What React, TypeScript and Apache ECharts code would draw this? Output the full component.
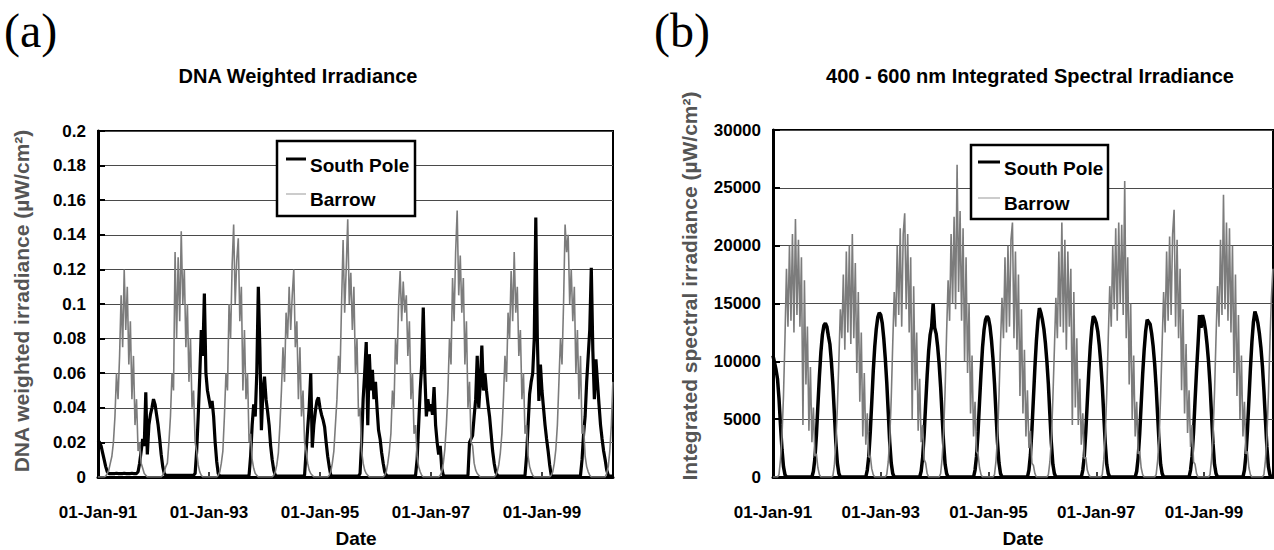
import React, { useEffect, useRef } from 'react';
import * as echarts from 'echarts';

// Samples are spaced 1/36 year (~10 days) apart, starting 01-Jan-1991.
const SAMPLES_PER_YEAR = 36;
const X_MAX_YEARS = 9.28;
const dateTickLabels = ['01-Jan-91', '01-Jan-93', '01-Jan-95', '01-Jan-97', '01-Jan-99'];

// Panel (a): DNA weighted irradiance (uW/cm2)
const southPoleDna = [
  // 1991
  .021, .020, .018, .014, .010, .006, .003, .002, .002, .002, .002, .002, .0022, .002, .002, .002, .002, .0022,
  .002, .002, .002, .002, .0022, .002, .002, .002, .003, .008, .015, .022, .018, .049, .013, .030, .036, .040,
  // 1992
  .045, .042, .036, .030, .022, .013, .006, .002, .001, .001, .001, .001, .001, .001, .001, .001, .001, .001,
  .001, .001, .001, .001, .001, .001, .001, .001, .001, .002, .015, .035, .058, .085, .070, .106, .060, .050,
  // 1993
  .045, .040, .044, .035, .020, .009, .002, .0005, .0005, .0005, .0005, .0005, .0005, .0005, .0005, .0005, .0005, .0005,
  .0005, .0005, .0005, .0005, .0005, .0005, .0005, .0005, .001, .012, .030, .042, .035, .060, .110, .075, .027, .050,
  // 1994
  .058, .045, .038, .030, .018, .010, .004, .001, .0005, .0005, .0005, .0005, .0005, .0005, .0005, .0005, .0005, .0005,
  .0005, .0005, .0005, .0005, .0005, .0005, .0005, .0005, .001, .015, .028, .040, .060, .017, .030, .038, .044, .046,
  // 1995
  .040, .036, .033, .029, .020, .012, .006, .001, .0005, .0005, .0005, .0005, .0005, .0005, .0005, .0005, .0005, .0005,
  .0005, .0005, .0005, .0005, .0005, .0005, .0005, .0005, .002, .020, .045, .060, .078, .030, .071, .050, .062, .045,
  // 1996
  .055, .040, .027, .022, .014, .008, .003, .001, .0005, .0005, .0005, .0005, .0005, .0005, .0005, .0005, .0005, .0005,
  .0005, .0005, .0005, .0005, .0005, .0005, .0005, .0005, .001, .010, .030, .050, .065, .098, .060, .035, .045, .038,
  // 1997
  .042, .036, .052, .030, .020, .013, .018, .005, .001, .0005, .0005, .0005, .0005, .0005, .0005, .0005, .0005, .0005,
  .0005, .0005, .0005, .0005, .0005, .0005, .001, .020, .022, .024, .035, .045, .070, .040, .055, .076, .050, .060,
  // 1998
  .050, .042, .035, .025, .015, .008, .003, .001, .0005, .0005, .0005, .0005, .0005, .0005, .0005, .0005, .0005, .0005,
  .0005, .0005, .0005, .0005, .0005, .0005, .0005, .001, .012, .030, .048, .055, .060, .080, .150, .080, .044, .065,
  // 1999
  .050, .040, .030, .022, .015, .007, .001, .0005, .0005, .0005, .0005, .0005, .0005, .0005, .0005, .0005, .0005, .0005,
  .0005, .0005, .0005, .0005, .0005, .0005, .0005, .001, .010, .025, .035, .055, .070, .085, .121, .073, .045, .068,
  // 2000
  .055, .042, .030, .022, .015, .010, .004, .001, .0005, .0005, .0005,
];

const barrowDna = [
  // 1991
  0, 0, 0, 0, 0, .0005, .002, .004, .008, .012, .020, .035, .060, .045, .070, .105, .075, .120,
  .085, .110, .065, .090, .045, .070, .030, .045, .015, .020, .008, .005, .002, .001, 0, 0, 0, 0,
  // 1992
  0, 0, 0, 0, 0, 0, .001, .003, .006, .008, .020, .035, .060, .050, .130, .080, .127, .090,
  .142, .100, .120, .075, .100, .055, .080, .040, .050, .020, .015, .007, .003, .001, 0, 0, 0, 0,
  // 1993
  0, 0, 0, 0, 0, 0, .001, .003, .008, .015, .035, .060, .050, .100, .080, .122, .146, .100,
  .125, .138, .090, .110, .050, .085, .045, .060, .020, .025, .010, .005, .002, .001, 0, 0, 0, 0,
  // 1994
  0, 0, 0, 0, 0, 0, .001, .003, .007, .014, .030, .050, .075, .055, .095, .080, .110, .085,
  .105, .120, .075, .090, .045, .075, .035, .050, .020, .015, .008, .004, .002, .001, 0, 0, 0, 0,
  // 1995
  0, 0, 0, 0, 0, 0, .001, .003, .008, .015, .030, .045, .070, .060, .100, .137, .095, .120,
  .149, .100, .118, .085, .110, .060, .080, .035, .040, .015, .008, .004, .002, .001, 0, 0, 0, 0,
  // 1996
  0, 0, 0, 0, 0, 0, .001, .003, .008, .015, .025, .050, .040, .080, .065, .100, .119, .090,
  .113, .095, .105, .070, .090, .045, .060, .025, .030, .012, .006, .003, .001, 0, 0, 0, 0, 0,
  // 1997
  0, 0, 0, 0, 0, 0, .001, .003, .008, .016, .030, .050, .080, .065, .115, .090, .130, .154,
  .105, .128, .095, .115, .065, .090, .040, .055, .020, .018, .008, .004, .002, .001, 0, 0, 0, 0,
  // 1998
  0, 0, 0, 0, 0, 0, .001, .003, .007, .014, .025, .045, .070, .055, .095, .080, .119, .090,
  .130, .095, .110, .070, .085, .045, .060, .025, .030, .012, .006, .003, .001, 0, 0, 0, 0, 0,
  // 1999
  0, 0, 0, 0, 0, 0, .001, .003, .008, .016, .030, .055, .080, .065, .100, .146, .130, .140,
  .100, .120, .090, .110, .060, .085, .045, .070, .025, .030, .012, .006, .003, .001, 0, 0, 0, 0,
  // 2000
  0, 0, 0, 0, 0, 0, .002, .006, .015, .030, .055,
];

// Panel (b): 400-600 nm integrated spectral irradiance (uW/cm2)
const southPoleVis = [
  // 1991
  10500, 9900, 9300, 8500, 6800, 4500, 2400, 900, 200, 0, 0, 0, 0, 0, 0, 0, 0, 0,
  0, 0, 0, 0, 0, 0, 0, 0, 0, 500, 1600, 3600, 6200, 8700, 10800, 12300, 13100, 13300,
  // 1992
  13000, 12200, 11500, 10000, 8000, 5500, 3000, 1200, 300, 0, 0, 0, 0, 0, 0, 0, 0, 0,
  0, 0, 0, 0, 0, 0, 0, 0, 0, 600, 1800, 3900, 6500, 9200, 11300, 12800, 13800, 14200,
  // 1993
  14000, 13300, 12000, 10300, 8200, 5600, 3000, 1200, 300, 0, 0, 0, 0, 0, 0, 0, 0, 0,
  0, 0, 0, 0, 0, 0, 0, 0, 0, 500, 1700, 3700, 6300, 8800, 10900, 12300, 13000, 15000,
  // 1994
  12900, 12400, 11300, 9800, 7800, 5300, 2900, 1100, 300, 0, 0, 0, 0, 0, 0, 0, 0, 0,
  0, 0, 0, 0, 0, 0, 0, 0, 0, 600, 1800, 3900, 6500, 9000, 11200, 12700, 13600, 13900,
  // 1995
  13700, 13000, 11800, 10200, 8100, 5500, 3000, 1200, 300, 0, 0, 0, 0, 0, 0, 0, 0, 0,
  0, 0, 0, 0, 0, 0, 0, 0, 0, 600, 1900, 4100, 6800, 9500, 11800, 13500, 14600, 14200,
  // 1996
  13600, 12800, 11600, 10000, 8000, 5400, 2900, 1100, 300, 0, 0, 0, 0, 0, 0, 0, 0, 0,
  0, 0, 0, 0, 0, 0, 0, 0, 0, 600, 1800, 3900, 6500, 9100, 11300, 12900, 13900, 13700,
  // 1997
  13300, 12600, 11400, 9900, 7900, 5400, 2900, 1100, 300, 0, 0, 0, 0, 0, 0, 0, 0, 0,
  0, 0, 0, 0, 0, 0, 0, 0, 0, 500, 1700, 3700, 6300, 8900, 11000, 12600, 13600, 13400,
  // 1998
  13200, 12400, 11300, 9800, 7800, 5300, 2900, 1100, 300, 0, 0, 0, 0, 0, 0, 0, 0, 0,
  0, 0, 0, 0, 0, 0, 0, 0, 0, 600, 1800, 3900, 6600, 9200, 11500, 14000, 12900, 14000,
  // 1999
  13500, 12700, 11500, 10000, 8000, 5400, 2900, 1100, 300, 0, 0, 0, 0, 0, 0, 0, 0, 0,
  0, 0, 0, 0, 0, 0, 0, 0, 0, 600, 1900, 4000, 6700, 9400, 11700, 13400, 14300, 13900,
  // 2000
  13300, 12400, 11200, 9600, 7500, 5000, 2600, 900, 200, 0, 0,
];

const barrowVis = [
  // 1991
  0, 0, 0, 0, 200, 1500, 3500, 7000, 12000, 18000, 13000, 20000, 13500, 21000, 12500, 22300, 14000, 20500,
  13000, 19000, 4500, 17000, 8000, 13000, 4000, 9500, 3000, 6000, 1800, 2000, 800, 200, 0, 0, 0, 0,
  // 1992
  0, 0, 0, 0, 100, 1000, 3000, 6000, 10000, 14500, 12000, 17500, 11000, 19500, 12500, 20000, 11500, 21000,
  12000, 18500, 9000, 16000, 6500, 12500, 3500, 9000, 2800, 5500, 1700, 1800, 700, 200, 0, 0, 0, 0,
  // 1993
  0, 0, 0, 0, 200, 1300, 3300, 6800, 11500, 16000, 13000, 20000, 14000, 21500, 13000, 21000, 22800, 14500,
  21000, 12500, 19000, 5000, 16500, 7500, 12500, 4000, 8500, 3000, 4500, 1500, 1200, 300, 0, 0, 0, 0,
  // 1994
  0, 0, 0, 0, 300, 1600, 3800, 7500, 12500, 17000, 13500, 21000, 15000, 22500, 14500, 27000, 16000, 23000,
  13500, 21500, 10000, 19000, 9000, 15000, 5500, 10500, 3500, 6500, 2200, 2000, 800, 200, 0, 0, 0, 0,
  // 1995
  0, 0, 0, 0, 200, 1400, 3400, 7000, 11500, 15500, 12000, 19000, 12500, 20000, 13000, 20500, 22000, 12000,
  19500, 11000, 17500, 7000, 14500, 5500, 11000, 3500, 7500, 2500, 4000, 1200, 1000, 300, 0, 0, 0, 0,
  // 1996
  0, 0, 0, 0, 200, 1300, 3200, 6800, 11000, 15500, 12000, 19500, 13000, 22000, 12500, 20500, 11000, 19500,
  13000, 18000, 4500, 16000, 6000, 12000, 4500, 8500, 2800, 5500, 1600, 1700, 600, 200, 0, 0, 0, 0,
  // 1997
  0, 0, 0, 0, 200, 1500, 3600, 7200, 12000, 16500, 13000, 20000, 14500, 21500, 13500, 22000, 15000, 21800,
  14000, 25600, 12000, 19000, 8000, 15000, 5000, 10500, 3500, 6500, 2000, 2200, 800, 200, 0, 0, 0, 0,
  // 1998
  0, 0, 0, 0, 200, 1400, 3400, 7000, 11500, 16000, 12500, 19500, 13500, 20800, 14000, 21000, 23100, 13000,
  20500, 12000, 18000, 7500, 14500, 5500, 11500, 3800, 7500, 2600, 4500, 1300, 1100, 300, 0, 0, 0, 0,
  // 1999
  0, 0, 0, 0, 200, 1500, 3600, 7300, 12000, 16500, 13000, 20500, 14000, 24400, 14500, 22000, 13500, 21500,
  12500, 20000, 9000, 17500, 7000, 14000, 5000, 10500, 3500, 6500, 2000, 2200, 800, 200, 0, 0, 0, 0,
  // 2000
  0, 0, 0, 0, 200, 1400, 3500, 7000, 11500, 15500, 18000,
];

const FONT = '"Liberation Sans", Arial, Helvetica, sans-serif';
const SERIF = '"Liberation Serif", "Times New Roman", serif';
const GREY = '#7c7c7c';

const toPairs = (vals: number[]) => vals.map((v, i) => [i / SAMPLES_PER_YEAR, v]);

const dateFormatter = (v: number) => {
  const k = Math.round(v / 2);
  return Math.abs(v - 2 * k) < 1e-6 ? dateTickLabels[k] ?? '' : '';
};

function makeXAxis(gridIndex: number) {
  return {
    type: 'value',
    gridIndex,
    min: 0,
    max: X_MAX_YEARS,
    interval: 2,
    axisLine: { show: true, onZero: false, lineStyle: { color: '#000', width: 3 } },
    axisTick: { show: true, inside: true, length: 5, lineStyle: { color: '#000', width: 1.5 } },
    axisLabel: {
      show: true,
      margin: 27,
      color: '#000',
      fontSize: 17,
      fontWeight: 'bold',
      fontFamily: FONT,
      showMaxLabel: false,
      formatter: dateFormatter,
    },
    splitLine: { show: false },
  };
}

function makeYAxis(gridIndex: number, max: number, interval: number, fmt: (v: number) => string) {
  return {
    type: 'value',
    gridIndex,
    min: 0,
    max,
    interval,
    axisLine: { show: true, lineStyle: { color: '#000', width: 3 } },
    axisTick: { show: true, inside: true, length: 7, lineStyle: { color: '#000', width: 2 } },
    axisLabel: {
      margin: 12,
      color: '#000',
      fontSize: 17,
      fontWeight: 'bold',
      fontFamily: FONT,
      formatter: fmt,
    },
    splitLine: { show: true, lineStyle: { color: '#4a4a4a', width: 1 } },
  };
}

function legendBox(x: number, y: number, w: number, h: number, lineY1: number, lineY2: number, textY1: number, textY2: number, lx1: number, lx2: number, tx: number) {
  return [
    { type: 'rect', z: 100, shape: { x, y, width: w, height: h }, style: { fill: '#fff', stroke: '#000', lineWidth: 2.5 } },
    { type: 'line', z: 101, shape: { x1: lx1, y1: lineY1, x2: lx2, y2: lineY1 }, style: { stroke: '#000', lineWidth: 3 } },
    { type: 'line', z: 101, shape: { x1: lx1, y1: lineY2, x2: lx2, y2: lineY2 }, style: { stroke: '#999', lineWidth: 1 } },
    {
      type: 'text', z: 101, x: tx, y: textY1,
      style: { text: 'South Pole', fill: '#000', fontSize: 19, fontWeight: 'bold', fontFamily: FONT, align: 'left', verticalAlign: 'middle', textAlign: 'left', textVerticalAlign: 'middle' },
    },
    {
      type: 'text', z: 101, x: tx, y: textY2,
      style: { text: 'Barrow', fill: '#000', fontSize: 19, fontWeight: 'bold', fontFamily: FONT, align: 'left', verticalAlign: 'middle', textAlign: 'left', textVerticalAlign: 'middle' },
    },
  ];
}

function textEl(text: string, x: number, y: number, size: number, opts: any = {}) {
  return {
    type: 'text',
    z: 50,
    x,
    y,
    rotation: opts.rotation || 0,
    style: {
      text,
      fill: opts.fill || '#000',
      fontSize: size,
      fontWeight: opts.weight || 'bold',
      fontFamily: opts.family || FONT,
      align: opts.align || 'center',
      verticalAlign: 'middle',
      textAlign: opts.align || 'center',
      textVerticalAlign: 'middle',
    },
  };
}

export default function App() {
  const ref = useRef<HTMLDivElement>(null);

  useEffect(() => {
    document.body.style.margin = '0';
    if (!ref.current) return;
    const chart = echarts.init(ref.current, undefined, { renderer: 'svg' });
    const option: any = {
      animation: false,
      backgroundColor: '#fff',
      grid: [
        { left: 98, top: 131, width: 515, height: 346, show: true, borderColor: '#000', borderWidth: 2, backgroundColor: '#fff' },
        { left: 773, top: 130, width: 500, height: 347, show: true, borderColor: '#000', borderWidth: 2, backgroundColor: '#fff' },
      ],
      xAxis: [makeXAxis(0), makeXAxis(1)],
      yAxis: [
        makeYAxis(0, 0.2, 0.02, (v: number) => String(+v.toFixed(2))),
        makeYAxis(1, 30000, 5000, (v: number) => String(Math.round(v))),
      ],
      series: [
        {
          name: 'South Pole', type: 'line', xAxisIndex: 0, yAxisIndex: 0, data: toPairs(southPoleDna),
          symbol: 'none', showSymbol: false, silent: true, z: 2, lineStyle: { color: '#000', width: 3.2 },
        },
        {
          name: 'Barrow', type: 'line', xAxisIndex: 0, yAxisIndex: 0, data: toPairs(barrowDna),
          symbol: 'none', showSymbol: false, silent: true, z: 3, lineStyle: { color: GREY, width: 1.6 },
        },
        {
          name: 'South Pole', type: 'line', xAxisIndex: 1, yAxisIndex: 1, data: toPairs(southPoleVis),
          symbol: 'none', showSymbol: false, silent: true, z: 2, lineStyle: { color: '#000', width: 3.5 },
        },
        {
          name: 'Barrow', type: 'line', xAxisIndex: 1, yAxisIndex: 1, data: toPairs(barrowVis),
          symbol: 'none', showSymbol: false, silent: true, z: 3, lineStyle: { color: GREY, width: 1.6 },
        },
      ],
      graphic: {
        elements: [
          textEl('(a)', 4, 30, 48, { weight: 'normal', family: SERIF, align: 'left' }),
          textEl('(b)', 654, 30, 48, { weight: 'normal', family: SERIF, align: 'left' }),
          textEl('DNA Weighted Irradiance', 298, 76, 20),
          textEl('400 - 600 nm Integrated Spectral Irradiance', 1030, 76, 20),
          textEl('DNA weighted irradiance (\u00b5W/cm\u00b2)', 21, 301, 21, { rotation: Math.PI / 2, fill: '#555' }),
          textEl('Integrated spectral irradiance (\u00b5W/cm\u00b2)', 689, 286, 21, { rotation: Math.PI / 2, fill: '#555' }),
          textEl('Date', 356, 538, 19),
          textEl('Date', 1023, 538, 19),
          ...legendBox(277, 141, 138, 75, 159, 194, 165, 199, 286, 306, 310),
          ...legendBox(971, 145, 137, 74, 162, 198, 168, 203, 978, 1000, 1004),
        ],
      },
    };
    chart.setOption(option);
    return () => chart.dispose();
  }, []);

  return <div ref={ref} style={{ width: 1274, height: 550 }} />;
}
